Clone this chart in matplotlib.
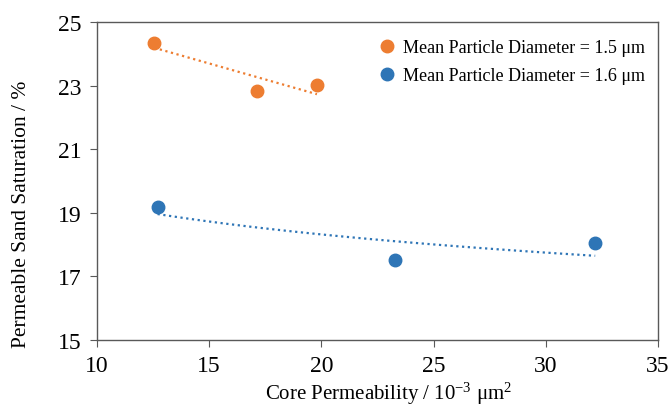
import numpy as np
import matplotlib
matplotlib.use("Agg")
import matplotlib.pyplot as plt

plt.rcParams["font.family"] = ["Liberation Serif", "DejaVu Serif"]
plt.rcParams["mathtext.fontset"] = "custom"
plt.rcParams["mathtext.rm"] = "Liberation Serif"
plt.rcParams["mathtext.it"] = "Liberation Serif:italic"

# --- data ---
perm_15 = [12.55, 17.15, 19.8]
sat_15 = [24.35, 22.82, 23.01]
perm_16 = [12.7, 23.3, 32.2]
sat_16 = [19.17, 17.51, 18.04]

labels = ["Mean Particle Diameter = 1.5 μm", "Mean Particle Diameter = 1.6 μm"]
colors = ["#ED7D31", "#2E75B6"]
trend = ["linear", "log"]

xticks = [10, 15, 20, 25, 30, 35]
yticks = [15, 17, 19, 21, 23, 25]

fig = plt.figure(figsize=(6.69, 4.10), dpi=100)
ax = fig.add_axes([0.145, 0.168, 0.8386, 0.776])

for x, y, c, lab, kind in zip([perm_15, perm_16], [sat_15, sat_16], colors, labels, trend):
    x = np.array(x)
    y = np.array(y)
    xs = np.linspace(x.min(), x.max(), 100)
    if kind == "log":
        b, a = np.polyfit(np.log(x), y, 1)
        ys = a + b * np.log(xs)
    else:
        b, a = np.polyfit(x, y, 1)
        ys = a + b * xs
    ax.plot(xs, ys, ls=(0, (1, 1.6)), lw=1.6, color=c, zorder=2)
    ax.plot(x, y, "o", ms=9, color=c, label=lab, zorder=3)

ax.set_xlim(10, 35)
ax.set_ylim(15, 25)
ax.set_xticks(xticks)
ax.set_yticks(yticks)
ax.tick_params(labelsize=17, color="#595959", length=5, direction="out", pad=6)
for s in ax.spines.values():
    s.set_color("#595959")
    s.set_linewidth(1.0)

ax.set_xlabel(r"Core Permeability / 10$^{-3}$ μm$^{2}$", fontsize=15)
ax.xaxis.set_label_coords(0.519, -0.125)
ax.set_ylabel("Permeable Sand Saturation / %", fontsize=15.5)
ax.yaxis.set_label_coords(-0.117, 0.40)

ax.legend(loc="upper right", bbox_to_anchor=(1.0, 0.985), frameon=False,
          fontsize=13, handletextpad=0.3, handlelength=1.2,
          borderaxespad=0.3, labelspacing=0.6)

fig.savefig("out.png", dpi=100)
